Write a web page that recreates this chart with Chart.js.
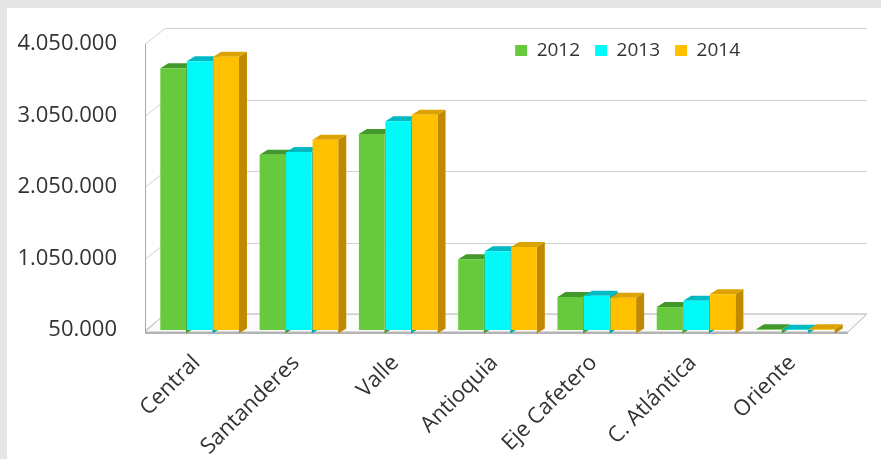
<!DOCTYPE html>
<html>
<head>
<meta charset="utf-8">
<script src="https://cdn.jsdelivr.net/npm/chart.js@4.4.1/dist/chart.umd.min.js"></script>
<style>
  html, body { margin: 0; padding: 0; background: #e5e5e5; }
  #wrap { width: 881px; height: 459px; }
</style>
</head>
<body>
<div id="wrap"><canvas id="chart" width="881" height="459"></canvas></div>
<script>
// data
const categories = ['Central', 'Santanderes', 'Valle', 'Antioquia', 'Eje Cafetero', 'C. Atlántica', 'Oriente'];
const years = ['2012', '2013', '2014'];
const values2012 = [3710000, 2500000, 2790000, 1040000, 510000, 370000, 60000];
const values2013 = [3810000, 2540000, 2970000, 1150000, 530000, 460000, 55000];
const values2014 = [3870000, 2710000, 3060000, 1210000, 500000, 550000, 60000];
const yTicks = [50000, 1050000, 2050000, 3050000, 4050000];

// looks
const frontColors = ['#66ca3c', '#00fafa', '#ffc000'];
const topColors = ['#42982a', '#00b9c2', '#dba200'];
const sideColors = ['#4a9a2e', '#00a8b0', '#c08900'];
const WALL_DX = 20, WALL_DY = -16;
const BAR_DX = 8, BAR_DY = -5;

function fmt(v) {
  return String(v).replace(/\B(?=(\d{3})+(?!\d))/g, '.');
}

const frame3d = {
  id: 'frame3d',
  beforeDraw(chart) {
    const ctx = chart.ctx;
    ctx.save();
    ctx.fillStyle = '#e5e5e5';
    ctx.fillRect(0, 0, chart.width, chart.height);
    ctx.fillStyle = '#ffffff';
    ctx.fillRect(7, 8, chart.width - 7, chart.height - 8);
    ctx.restore();
  },
  afterLayout(chart) {
    // legend sits inside the plot, upper right
    const lg = chart.legend;
    const h = lg.bottom - lg.top;
    lg.left = 0;
    lg.right = 755;
    lg.top = 26;
    lg.bottom = 26 + h;
  },
  beforeDatasetsDraw(chart) {
    const { ctx, chartArea: a } = chart;
    const y = chart.scales.y;
    const fx = a.left - 5;
    const by = y.getPixelForValue(y.min);
    const rightBack = a.right + 22;
    const rightFront = a.right + 3;
    ctx.save();
    ctx.lineWidth = 1;

    // floor
    ctx.fillStyle = '#fbfbfb';
    ctx.strokeStyle = '#b4b4b4';
    ctx.beginPath();
    ctx.moveTo(fx, by + 2);
    ctx.lineTo(fx + WALL_DX, by + WALL_DY);
    ctx.lineTo(rightBack, by + WALL_DY);
    ctx.lineTo(rightFront, by + 2);
    ctx.closePath();
    ctx.fill();
    ctx.stroke();
    ctx.lineWidth = 2;
    ctx.beginPath();
    ctx.moveTo(fx, by + 3);
    ctx.lineTo(rightFront, by + 3);
    ctx.stroke();

    // back wall grid and side wall
    ctx.lineWidth = 1;
    ctx.strokeStyle = '#d2d2d2';
    y.ticks.forEach(t => {
      const py = Math.round(y.getPixelForValue(t.value)) + 0.5;
      ctx.beginPath();
      ctx.moveTo(fx, py);
      ctx.lineTo(fx + WALL_DX, py + WALL_DY);
      ctx.lineTo(rightBack, py + WALL_DY);
      ctx.stroke();
    });
    ctx.strokeStyle = '#a8a8a8';
    ctx.beginPath();
    ctx.moveTo(fx + 0.5, a.top);
    ctx.lineTo(fx + 0.5, by + 3);
    ctx.stroke();

    // bar tops and sides, left to right
    const metas = chart.data.datasets.map((d, i) => chart.getDatasetMeta(i));
    for (let i = 0; i < categories.length; i++) {
      metas.forEach((meta, d) => {
        const bar = meta.data[i];
        const p = bar.getProps(['x', 'y', 'base', 'width'], true);
        const x0 = p.x - p.width / 2, x1 = p.x + p.width / 2;
        ctx.fillStyle = sideColors[d];
        ctx.beginPath();
        ctx.moveTo(x1, p.y);
        ctx.lineTo(x1 + BAR_DX, p.y + BAR_DY);
        ctx.lineTo(x1 + BAR_DX, p.base + BAR_DY);
        ctx.lineTo(x1, p.base);
        ctx.closePath();
        ctx.fill();
        ctx.fillStyle = topColors[d];
        ctx.beginPath();
        ctx.moveTo(x0, p.y);
        ctx.lineTo(x0 + BAR_DX, p.y + BAR_DY);
        ctx.lineTo(x1 + BAR_DX, p.y + BAR_DY);
        ctx.lineTo(x1, p.y);
        ctx.closePath();
        ctx.fill();
      });
    }
    ctx.restore();
  }
};

const ctx = document.getElementById('chart').getContext('2d');
const chart = new Chart(ctx, {
  type: 'bar',
  data: {
    labels: categories,
    datasets: [
      { label: years[0], data: values2012, backgroundColor: frontColors[0] },
      { label: years[1], data: values2013, backgroundColor: frontColors[1] },
      { label: years[2], data: values2014, backgroundColor: frontColors[2] }
    ]
  },
  options: {
    responsive: false,
    devicePixelRatio: 1,
    animation: false,
    layout: { padding: { top: 0, right: 36, bottom: 0, left: 0 } },
    datasets: {
      bar: { categoryPercentage: 0.8, barPercentage: 0.97, borderWidth: 0 }
    },
    plugins: {
      legend: {
        position: 'top',
        align: 'end',
        maxHeight: 45,
        labels: {
          boxWidth: 12,
          boxHeight: 11,
          padding: 15,
          color: '#333333',
          font: { family: 'Open Sans', size: 19 }
        }
      },
      tooltip: { enabled: false }
    },
    scales: {
      x: {
        grid: { display: false },
        border: { display: false },
        afterFit: s => { s.height = 129; },
        ticks: {
          autoSkip: false,
          maxRotation: 45,
          minRotation: 45,
          padding: 12,
          labelOffset: -3,
          color: '#333333',
          font: { family: 'Open Sans', size: 22 }
        }
      },
      y: {
        min: yTicks[0],
        max: yTicks[yTicks.length - 1],
        grid: { display: false },
        border: { display: false },
        afterFit: s => { s.width = 150; },
        afterBuildTicks: s => { s.ticks = yTicks.map(v => ({ value: v })); },
        ticks: {
          padding: 25,
          color: '#333333',
          font: { family: 'Open Sans', size: 22 },
          callback: v => fmt(v)
        }
      }
    }
  },
  plugins: [frame3d]
});
</script>
</body>
</html>
